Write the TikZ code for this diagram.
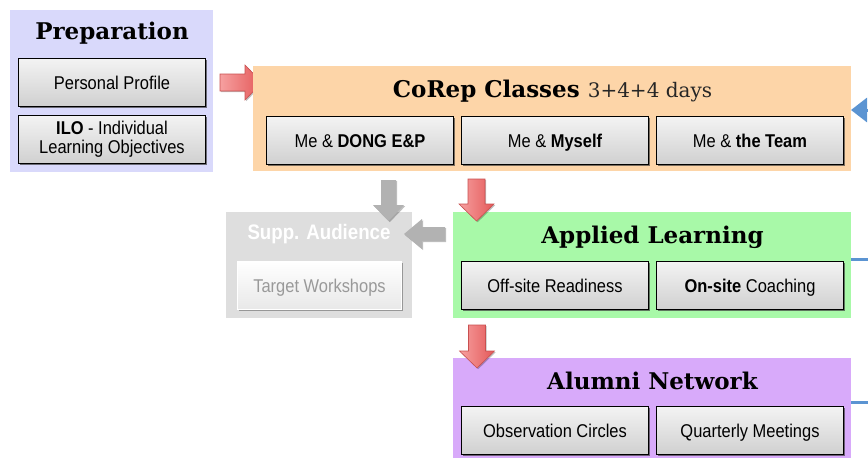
\documentclass[tikz,border=0pt]{standalone}
\usepackage{fontspec}
\setmainfont{Liberation Sans}
\newfontfamily\boxfont[FakeStretch=0.89]{Liberation Sans}
\newfontfamily\titlefont{DejaVu Serif}
\usetikzlibrary{shadows,arrows.meta,calc}
\definecolor{prepfill}{RGB}{217,217,251}
\definecolor{corepfill}{RGB}{253,213,168}
\definecolor{applfill}{RGB}{168,249,168}
\definecolor{alumfill}{RGB}{216,170,250}
\definecolor{suppfill}{RGB}{222,222,222}
\definecolor{bluec}{RGB}{91,148,210}
\definecolor{redA}{RGB}{246,160,160}
\definecolor{redB}{RGB}{228,88,88}
\definecolor{redD}{RGB}{200,80,80}
\definecolor{grayA}{RGB}{178,178,178}
\definecolor{boxtop}{RGB}{243,243,243}
\definecolor{boxbot}{RGB}{208,208,208}
\newcommand\blockarrow[6]{%
  \coordinate (ba-h) at ($(#3)!#6!(#2)$);
  \path[#1] ($(#2)!#4!90:(#3)$) -- ($(ba-h)!#4!90:(#3)$) -- ($(ba-h)!#5!90:(#3)$) -- (#3)
    -- ($(ba-h)!#5!-90:(#3)$) -- ($(ba-h)!#4!-90:(#3)$) -- ($(#2)!#4!-90:(#3)$) -- cycle;}
\tikzset{
  panel/.style={anchor=north west, inner sep=0pt, outer sep=0pt},
  titletext/.style={font=\titlefont\bfseries\fontsize{23}{26}\selectfont, inner sep=0pt, anchor=base},
  subbox/.style={anchor=north west, draw=black, line width=1pt, top color=boxtop, bottom color=boxbot,
    drop shadow={shadow xshift=1.5pt, shadow yshift=-1.5pt, fill=black!75, opacity=0.7},
    minimum width=187pt, minimum height=48pt, inner sep=0pt, align=center,
    font=\boxfont\fontsize{18.5}{19}\selectfont},
  oneline/.style={text height=13pt, text depth=0pt},
  fadedbox/.style={subbox, draw=white, top color=white, bottom color=black!9, text=black!40,
    drop shadow={shadow xshift=1.5pt, shadow yshift=-1.5pt, fill=black!30, opacity=0.6}},
  arrowshadow/.style={preaction={fill=black, opacity=0.25, transform canvas={shift={(1.2,1.2)}}}},
  redarrow/.style={arrowshadow, left color=redA, right color=redB, draw=redD, line width=0.6pt, line join=miter},
  grayarrow/.style={arrowshadow, fill=grayA},
  bluelink/.style={draw=bluec, line width=3pt}
}
\begin{document}
\begin{tikzpicture}[x=1pt,y=-1pt]
\useasboundingbox (0,0) rectangle (868,458);
\clip (0,0) rectangle (868,458);
% Preparation
\node[panel, fill=prepfill, minimum width=203pt, minimum height=162pt] (prep) at (10,10) {};
\node[titletext] (preptitle) at (112,39) {Preparation};
\node[subbox, oneline] (profile) at (18,58) {Personal Profile};
\node[subbox] (ilo) at (18,115) {\textbf{ILO} - Individual\\Learning Objectives};
% arrow into CoRep (tip hidden under the CoRep panel)
\coordinate (rtail0) at (220,82.5);
\coordinate (rtip0) at (262,82.5);
\blockarrow{redarrow}{rtail0}{rtip0}{8.5pt}{17.5pt}{17pt}
% CoRep
\node[panel, fill=corepfill, minimum width=598pt, minimum height=105pt] (corep) at (253,66) {};
\node[titletext] (coreptitle) at (552.5,97) {CoRep Classes {\mdseries\fontsize{20}{24}\selectfont\color{black!85} 3+4+4 days}};
\node[subbox, oneline] (dong) at (266,116) {Me \& \textbf{DONG E\&P}};
\node[subbox, oneline] (myself) at (461,116) {Me \& \textbf{Myself}};
\node[subbox, oneline] (team) at (656,116) {Me \& \textbf{the Team}};
% Supp. Audience
\node[panel, fill=suppfill, minimum width=186pt, minimum height=106pt] (supp) at (226,212) {};
\node[font=\boxfont\bfseries\fontsize{21}{22}\selectfont, text=white, inner sep=0pt, anchor=base] (supptitle) at (319,239) {Supp. Audience};
\node[fadedbox, oneline, minimum width=164pt] (target) at (237,261) {Target Workshops};
% Applied Learning
\node[panel, fill=applfill, minimum width=398pt, minimum height=106pt] (applied) at (453,212) {};
\node[titletext] (appliedtitle) at (652.5,243) {Applied Learning};
\node[subbox, oneline] (offsite) at (461,261) {Off-site Readiness};
\node[subbox, oneline] (onsite) at (656,261) {\textbf{On-site} Coaching};
% Alumni
\node[panel, fill=alumfill, minimum width=398pt, minimum height=100pt] (alumni) at (453,358) {};
\node[titletext] (alumnititle) at (652.5,389) {Alumni Network};
\node[subbox, oneline] (obs) at (461,406) {Observation Circles};
\node[subbox, oneline] (quart) at (656,406) {Quarterly Meetings};
% block arrows
\coordinate (gtail1) at (388.5,180);
\coordinate (gtip1) at (388.5,221);
\blockarrow{grayarrow}{gtail1}{gtip1}{7.5pt}{15.5pt}{16pt}
\coordinate (gtail2) at (445,234);
\coordinate (gtip2) at (404,234);
\blockarrow{grayarrow}{gtail2}{gtip2}{7pt}{15pt}{18pt}
\coordinate (rtail1) at (476.5,179);
\coordinate (rtip1) at (476.5,221);
\blockarrow{redarrow}{rtail1}{rtip1}{8.5pt}{17.5pt}{17pt}
\coordinate (rtail2) at (477,325);
\coordinate (rtip2) at (477,368);
\blockarrow{redarrow}{rtail2}{rtip2}{8.5pt}{17.5pt}{17pt}
% blue loop
\coordinate (blA) at (880,110);
\coordinate (blB) at (880,259);
\coordinate (blC) at (880,402);
\draw[bluelink, -{Triangle[length=16pt,width=24pt]}] (blA) -- (blA -| corep.east);
\draw[bluelink] (blB -| applied.east) -- (blB);
\draw[bluelink] (blC -| alumni.east) -- (blC);
\end{tikzpicture}
\end{document}
